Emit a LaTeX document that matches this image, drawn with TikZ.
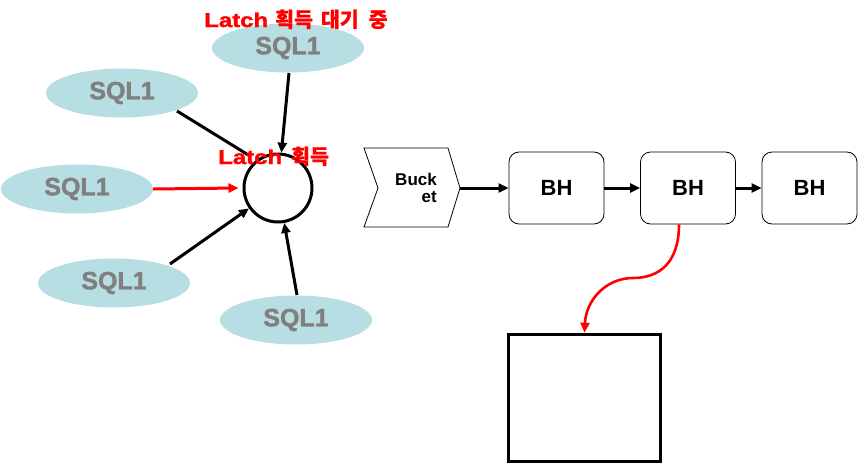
\documentclass[tikz,border=0pt]{standalone}
\usepackage{fontspec}
\setmainfont{Liberation Sans}
\newfontfamily\heavy[FakeBold=1.5]{Liberation Sans}
\newfontfamily\kr[FakeBold=0.8]{Noto Sans CJK KR}
\usetikzlibrary{shapes.geometric,arrows.meta}
\definecolor{sqlfill}{RGB}{183,222,227}
\definecolor{sqltext}{RGB}{128,128,128}
\newcommand{\wideL}[1]{\scalebox{1.2}[1]{#1}}
\newcommand{\krw}[1]{{\kr\fontsize{20.5}{22}\selectfont #1}}
\begin{document}
\begin{tikzpicture}[x=1pt,y=-1pt,
  sql/.style={ellipse,fill=sqlfill,draw=none,minimum width=152pt,minimum height=49pt,inner sep=0pt,
    font=\heavy\fontsize{25}{28}\selectfont\bfseries,text=sqltext},
  bh/.style={draw=black,line width=0.8pt,rounded corners=10pt,minimum width=95pt,minimum height=72pt,inner sep=0pt,
    font=\fontsize{22}{24}\selectfont\bfseries},
  arr/.style={line width=3pt,-{Triangle[length=10pt,width=9pt]}},
  lbl/.style={text=red,font=\heavy\fontsize{20}{22}\selectfont\bfseries,inner sep=0pt}
]
\useasboundingbox (0,0) rectangle (859,466);
% SQL ellipses
\node[sql] (s1) at (288,48) {SQL1};
\node[sql] (s2) at (122,93) {SQL1};
\node[sql] (s3) at (77,189) {SQL1};
\node[sql] (s4) at (114,283) {SQL1};
\node[sql] (s5) at (296,320) {SQL1};
% latch circle
\node[circle,draw=black,line width=3pt,minimum size=68pt,inner sep=0pt] (c) at (278,188) {};
% connectors
\coordinate (e2) at (250,156);
\draw[line width=3pt] (177,111) -- (e2);
\draw[arr] (289,73) -- (c);
\draw[arr,red] (s3.east) -- ([xshift=-4pt]c.west);
\draw[arr] (170,264) -- (c);
\draw[arr] (297,295) -- (c);
% labels
\node[lbl,anchor=base west] (l1) at (204,27) {\wideL{Latch}\hspace{7pt}\krw{획득}\hspace{8pt}\krw{대기}\hspace{10pt}\krw{중}};
\node[lbl,anchor=base west] (l2) at (218,164) {\wideL{Latch}\hspace{9pt}\krw{획득}};
% bucket chevron
\draw[line width=0.8pt] (364,148) -- (448,148) -- (460,188) -- (448,227) -- (364,227) -- (378,188) -- cycle;
\coordinate (bk) at (460,188);
\node[align=right,anchor=east,inner sep=0pt,font=\fontsize{17}{17}\selectfont\bfseries] (bt) at (437,188) {Buck\\et};
% BH boxes
\node[bh] (b1) at (556.5,188) {BH};
\node[bh] (b2) at (688,188) {BH};
\node[bh] (b3) at (809.5,188) {BH};
\draw[arr] (bk) -- (b1);
\draw[arr] (b1) -- (b2);
\draw[arr] (b2) -- (b3);
% memory box
\node[draw=black,line width=3.5pt,minimum width=152pt,minimum height=127pt,inner sep=0pt] (sq) at (584.5,398) {};
\draw[red,line width=2.6pt,-{Triangle[length=10pt,width=9pt]}]
  ([xshift=-9pt]b2.south) .. controls (679,262) and (660,278) .. (633,278)
  .. controls (606,278) and (586,300) .. (sq.north);
\end{tikzpicture}
\end{document}
